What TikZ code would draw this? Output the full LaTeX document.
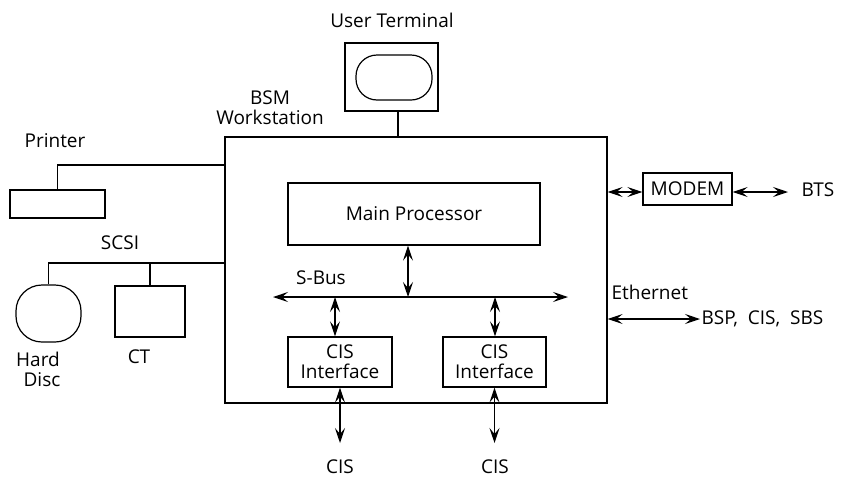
\documentclass[tikz,border=0pt]{standalone}
\usepackage{fontspec}
\setmainfont{Open Sans}
\usetikzlibrary{arrows.meta}
\usetikzlibrary{calc}

\tikzset{
	unit/.style={draw,line width=1.2pt,inner sep=0pt},
	label text/.style={inner sep=1pt,font=\fontsize{19}{20}\selectfont,align=center},
	bus arrow/.style={line width=1.2pt,{Stealth[length=15pt,width=10pt,inset=6pt]}-{Stealth[length=15pt,width=10pt,inset=6pt]}}
}

\begin{document}
\begin{tikzpicture}[x=1pt,y=-1pt,line width=1.2pt,every node/.style={label text}]
	\useasboundingbox (0,0) rectangle (867,480);
	% boxes
	\node [unit,minimum width=382pt,minimum height=266pt] (ws) at (416,270) {};
	\node [unit,minimum width=93pt,minimum height=68pt] (term) at (391.5,77) {};
	\node [unit,rounded corners=21pt,minimum width=76pt,minimum height=45pt] (screen) at (394,77.5) {};
	\node [unit,minimum width=95pt,minimum height=28pt] (printer) at (57.5,204) {};
	\node [unit,rounded corners=26pt,minimum width=65pt,minimum height=57pt] (disc) at (48.5,313.5) {};
	\node [unit,minimum width=70pt,minimum height=51pt] (ct) at (150,311.5) {};
	\node [unit,minimum width=252pt,minimum height=62pt] (proc) at (414,214) {Main Processor};
	\node [unit,minimum width=104pt,minimum height=50pt] (cis1) at (340,362) {CIS\\Interface};
	\node [unit,minimum width=103pt,minimum height=50pt] (cis2) at (494.5,362) {CIS\\Interface};
	\node [unit,minimum width=89pt,minimum height=32pt] (modem) at (687.5,189) {MODEM};
	% labels
	\node (termlbl) at (392,20) {User Terminal};
	\node (wslbl) at (270,108) {BSM\\Workstation};
	\node (printerlbl) at (55,141) {Printer};
	\node (scsilbl) at (120,243) {SCSI};
	\node (disclbl) at (38,369) {Hard\\\hspace*{8pt}Disc};
	\node (ctlbl) at (139,357) {CT};
	\node (buslbl) at (321,278) {S-Bus};
	\node [anchor=west] (ethlbl) at (610,292) {Ethernet};
	\node [anchor=west] (net) at (700,319) {BSP,\ \ CIS,\ \ SBS};
	\node [anchor=west] (bts) at (800,190) {BTS};
	\node (cisA) at (340,467) {CIS};
	\node (cisB) at (495,467) {CIS};
	% coordinates
	\coordinate (scsi) at (ws.west |- 0,263);
	\coordinate (lpt) at (ws.west |- 0,165);
	\coordinate (busL) at (273,297);
	\coordinate (busR) at (568,297);
	% wires
	\draw (term.south -| 398,0) -- (ws.north -| 398,0);
	\draw (printer.north) |- (lpt);
	\draw (disc.north) |- (scsi);
	\draw (ct.north) -- (ct.north |- scsi);
	\draw [bus arrow] (busL) -- (busR);
	\draw [bus arrow] (proc.south -| 408,0) -- (busL -| 408,0);
	\draw [bus arrow] (busL -| 335,0) -- (cis1.north -| 335,0);
	\draw [bus arrow] (busL -| 495,0) -- (cis2.north -| 495,0);
	\draw [bus arrow] (cis1.south) -- (cis1.south |- 0,443);
	\draw [bus arrow] (cis2.south) -- (cis2.south |- 0,443);
	\draw [bus arrow] (ws.east |- 0,192) -- (modem.west |- 0,192);
	\draw [bus arrow] (modem.east |- 0,192) -- (788,192);
	\draw [bus arrow] (ws.east |- net) -- (net.west);
\end{tikzpicture}
\end{document}
